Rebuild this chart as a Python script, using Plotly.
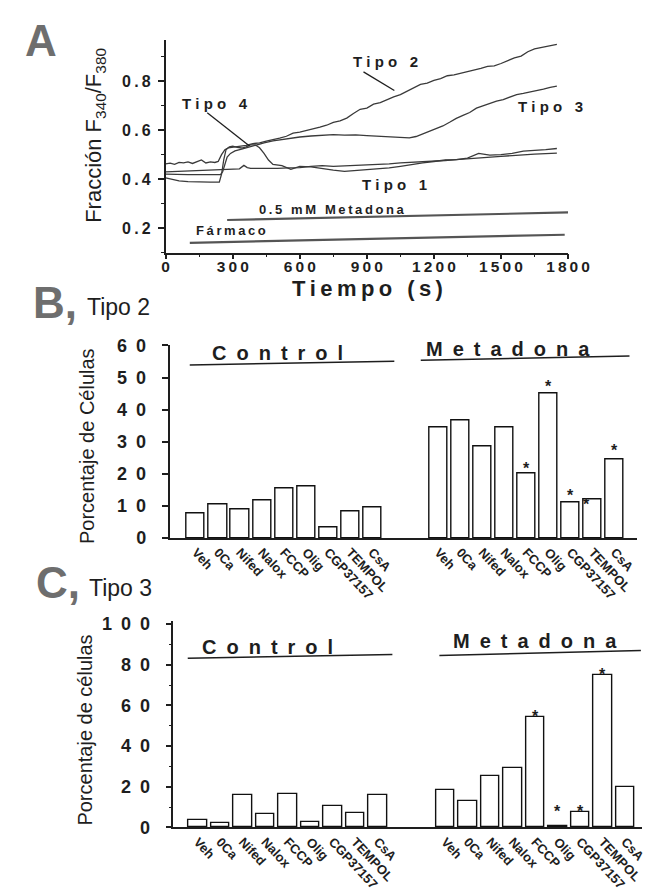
import plotly.graph_objects as go

FONT = "Liberation Sans, Arial, Helvetica, sans-serif"
W, H = 656, 889
INK = "#1e1e1e"
TRACE = "#3a3a3a"

# ---------------- Panel A : ratio traces ----------------
t_tipo1 = [0, 50, 100, 150, 200, 250, 300, 330, 350, 365, 380, 450, 500, 550, 600, 650, 700, 750, 800,
           850, 900, 950, 1000, 1050, 1100, 1150, 1200, 1250, 1300, 1350, 1400, 1450, 1500, 1550, 1600,
           1650, 1700, 1750]
v_tipo1 = [0.430, 0.432, 0.433, 0.435, 0.436, 0.438, 0.440, 0.442, 0.456, 0.447, 0.444, 0.443, 0.444,
           0.446, 0.447, 0.452, 0.455, 0.452, 0.454, 0.455, 0.456, 0.458, 0.462, 0.466, 0.468, 0.470,
           0.474, 0.476, 0.480, 0.484, 0.488, 0.490, 0.493, 0.496, 0.500, 0.502, 0.504, 0.506]

t_tipo2 = [0, 20, 40, 60, 80, 100, 120, 140, 160, 180, 200, 220, 235, 250, 265, 280, 300, 330, 360, 390,
           420, 450, 480, 510, 540, 570, 600, 630, 660, 690, 720, 750, 780, 810, 840, 870, 900, 930, 960,
           990, 1020, 1050, 1080, 1110, 1140, 1170, 1200, 1230, 1260, 1290, 1320, 1350, 1380, 1410, 1440,
           1470, 1500, 1530, 1560, 1590, 1620, 1650, 1680, 1710, 1740, 1750]
v_tipo2 = [0.462, 0.465, 0.460, 0.468, 0.466, 0.470, 0.464, 0.470, 0.478, 0.466, 0.470, 0.468, 0.472,
           0.500, 0.520, 0.528, 0.530, 0.532, 0.538, 0.545, 0.548, 0.555, 0.560, 0.567, 0.575, 0.588,
           0.592, 0.598, 0.603, 0.612, 0.620, 0.632, 0.638, 0.649, 0.668, 0.685, 0.690, 0.706, 0.712,
           0.725, 0.736, 0.745, 0.760, 0.772, 0.787, 0.792, 0.803, 0.810, 0.822, 0.826, 0.832, 0.840,
           0.846, 0.852, 0.860, 0.862, 0.872, 0.884, 0.895, 0.902, 0.920, 0.932, 0.938, 0.944, 0.948,
           0.950]

t_tipo3 = [0, 50, 100, 150, 200, 245, 255, 265, 275, 290, 310, 340, 370, 400, 440, 480, 520, 560, 600,
           650, 700, 750, 800, 850, 900, 950, 1000, 1050, 1090, 1120, 1150, 1180, 1210, 1240, 1270, 1300,
           1330, 1360, 1390, 1420, 1450, 1480, 1510, 1540, 1570, 1600, 1630, 1660, 1690, 1720, 1750]
v_tipo3 = [0.420, 0.418, 0.418, 0.418, 0.418, 0.418, 0.430, 0.460, 0.490, 0.505, 0.515, 0.522, 0.530,
           0.540, 0.548, 0.556, 0.562, 0.568, 0.572, 0.576, 0.580, 0.582, 0.580, 0.581, 0.578, 0.576,
           0.572, 0.570, 0.568, 0.574, 0.585, 0.595, 0.605, 0.617, 0.632, 0.648, 0.660, 0.672, 0.690,
           0.700, 0.710, 0.718, 0.725, 0.735, 0.745, 0.750, 0.755, 0.760, 0.767, 0.775, 0.780]

t_tipo4 = [0, 30, 60, 100, 150, 200, 240, 250, 260, 270, 285, 300, 320, 340, 360, 380, 400, 420, 440,
           460, 480, 520, 560, 600, 650, 700, 750, 800, 850, 900, 950, 1000, 1050, 1100, 1150, 1200,
           1250, 1300, 1350, 1400, 1450, 1500, 1550, 1600, 1650, 1700, 1750]
v_tipo4 = [0.405, 0.398, 0.393, 0.390, 0.388, 0.388, 0.388, 0.420, 0.480, 0.520, 0.532, 0.535, 0.530,
           0.527, 0.532, 0.540, 0.540, 0.528, 0.505, 0.478, 0.460, 0.455, 0.440, 0.452, 0.450, 0.442,
           0.437, 0.432, 0.435, 0.438, 0.440, 0.446, 0.452, 0.460, 0.466, 0.472, 0.478, 0.480, 0.486,
           0.505, 0.498, 0.500, 0.505, 0.514, 0.516, 0.520, 0.525]

# application bars (start/end time, level)
farmaco_t = [108, 1785]
farmaco_v = [0.140, 0.173]
metadona_t = [275, 1800]
metadona_v = [0.233, 0.264]

a_xticks = [0, 300, 600, 900, 1200, 1500, 1800]
a_yticks = [0.2, 0.4, 0.6, 0.8]

# ---------------- Panels B / C : bar data ----------------
categories = ["Veh", "0Ca", "Nifed", "Nalox", "FCCP", "Olig", "CGP37157", "TEMPOL", "CsA"]
b_control = [7.6, 10.6, 9.0, 11.6, 15.5, 16.2, 3.2, 8.2, 9.4]
b_metadona = [34.5, 36.5, 28.5, 34.5, 20.0, 45.0, 11.0, 12.0, 24.5]
c_control = [3.5, 2.0, 15.7, 6.7, 16.5, 2.5, 10.6, 6.9, 16.0]
c_metadona = [18.2, 12.8, 25.4, 29.0, 54.2, 0.5, 7.4, 74.7, 19.7]

b_star_idx = [4, 5, 6, 7, 8]
b_star_y = [22.8, 48.4, 14.6, 11.6, 28.6]
c_star_idx = [4, 5, 6, 7]
c_star_y = [56.7, 9.6, 9.6, 77.4]

b_yticks = [0, 10, 20, 30, 40, 50, 60]
c_yticks = [0, 20, 40, 60, 80, 100]

pos_control = list(range(len(categories)))
pos_metadona = [i + len(categories) + 2 for i in range(len(categories))]


def pxx(x):
    return x / W


def pxy(y):
    return 1 - y / H


def spaced(s, gap="\u2009"):
    return gap.join(s)


fig = go.Figure()

# ---- Panel A traces ----
for tt, vv in [(t_tipo1, v_tipo1), (t_tipo2, v_tipo2), (t_tipo3, v_tipo3), (t_tipo4, v_tipo4)]:
    fig.add_trace(go.Scatter(x=tt, y=vv, mode="lines", line=dict(color=TRACE, width=1.3),
                             xaxis="x", yaxis="y", showlegend=False, hoverinfo="skip"))
for tt, vv in [(farmaco_t, farmaco_v), (metadona_t, metadona_v)]:
    fig.add_trace(go.Scatter(x=tt, y=vv, mode="lines", line=dict(color="#555555", width=2.2),
                             xaxis="x", yaxis="y", showlegend=False, hoverinfo="skip"))

# ---- Bars ----
bar_style = dict(marker=dict(color="white", line=dict(color="#111111", width=1.4)), width=0.82,
                 showlegend=False, hoverinfo="skip")
fig.add_trace(go.Bar(x=pos_control + pos_metadona, y=b_control + b_metadona,
                     xaxis="x2", yaxis="y2", **bar_style))
fig.add_trace(go.Bar(x=pos_control + pos_metadona, y=c_control + c_metadona,
                     xaxis="x3", yaxis="y3", **bar_style))

axis_common = dict(showline=True, linecolor=INK, linewidth=1.5, showgrid=False, zeroline=False,
                   ticks="outside", tickcolor=INK, tickwidth=1.5, ticklen=6)

xaxis_a = dict(domain=[pxx(160), pxx(579)], range=[0, 1800], anchor="y",
               tickvals=a_xticks, ticktext=[spaced(str(v)) for v in a_xticks],
               tickfont=dict(size=15.5, weight="bold", color=INK),
               minor=dict(ticks="outside", ticklen=3, tickwidth=1.2, tickcolor=INK, dtick=150, tick0=0),
               **axis_common)
xaxis_a["ticklen"] = 5

fig.update_layout(
    width=W, height=H, margin=dict(l=0, r=0, t=0, b=0),
    paper_bgcolor="white", plot_bgcolor="white",
    font=dict(family=FONT, color=INK),
    bargap=0,
    xaxis=xaxis_a,
    yaxis=dict(domain=[pxy(240), pxy(22)], range=[0.1, 0.97], anchor="x",
               tickvals=a_yticks, ticktext=[spaced("%.1f" % v) for v in a_yticks],
               tickfont=dict(size=16, weight="bold", color=INK), ticklabelstandoff=4,
               minor=dict(ticks="outside", ticklen=3, tickwidth=1.2, tickcolor=INK, dtick=0.1, tick0=0.1),
               **axis_common),
    xaxis2=dict(domain=[pxx(164), pxx(651)], range=[-1.2, 20.02], anchor="y2",
                tickvals=pos_control + pos_metadona, ticktext=categories + categories,
                tickangle=47, tickfont=dict(size=13, weight="bold", color=INK),
                showline=True, linecolor=INK, linewidth=1.5, showgrid=False, zeroline=False, ticks=""),
    yaxis2=dict(domain=[pxy(532), pxy(335)], range=[0, 60], anchor="x2",
                tickvals=b_yticks, ticktext=[spaced(str(v), "\u2002") for v in b_yticks],
                tickfont=dict(size=18, weight="bold", color=INK), ticklabelstandoff=12,
                **axis_common),
    xaxis3=dict(domain=[pxx(168), 1.0], range=[-1.09, 19.75], anchor="y3",
                tickvals=pos_control + pos_metadona, ticktext=categories + categories,
                tickangle=47, tickfont=dict(size=13, weight="bold", color=INK),
                showline=True, linecolor=INK, linewidth=1.5, showgrid=False, zeroline=False, ticks=""),
    yaxis3=dict(domain=[pxy(828), pxy(617)], range=[0, 101.5], anchor="x3",
                tickvals=c_yticks, ticktext=[spaced(str(v), "\u2002") for v in c_yticks],
                tickfont=dict(size=18, weight="bold", color=INK), ticklabelstandoff=12,
                minor=dict(ticks="outside", ticklen=3, tickwidth=1.2, tickcolor=INK, dtick=10, tick0=0),
                **axis_common),
)

# pull the time tick labels a little closer to the axis, if this plotly accepts it
try:
    fig.update_xaxes(ticklabelstandoff=-6, selector=dict(anchor="y"))
except ValueError:
    pass

ann = []
shapes = []

# ---- Panel A labels ----
bold15 = dict(family=FONT, size=15, color=INK, weight="bold")
for txt, tx, ty in [("Tipo 2", 982, 0.882), ("Tipo 4", 220, 0.707), ("Tipo 3", 1722, 0.695),
                    ("Tipo 1", 1025, 0.379)]:
    ann.append(dict(x=tx, y=ty, xref="x", yref="y", text=spaced(txt, " "), showarrow=False,
                    font=bold15, xanchor="center", yanchor="middle"))
ann.append(dict(x=745, y=0.276, xref="x", yref="y", text=spaced("0.5 mM Metadona"), showarrow=False,
                xanchor="center", yanchor="middle",
                font=dict(family=FONT, size=13, color=INK, weight="bold")))
ann.append(dict(x=291, y=0.192, xref="x", yref="y", text=spaced("Fármaco"), showarrow=False,
                xanchor="center", yanchor="middle",
                font=dict(family=FONT, size=13, color=INK, weight="bold")))
# leader lines
shapes.append(dict(type="line", xref="x", yref="y", x0=885, y0=0.838, x1=1023, y1=0.762,
                   line=dict(color=INK, width=1.3)))
shapes.append(dict(type="line", xref="x", yref="y", x0=186, y0=0.671, x1=375, y1=0.535,
                   line=dict(color=INK, width=1.3)))

ann.append(dict(x=pxx(370), y=pxy(277), xref="paper", yref="paper", text=spaced("Tiempo (s)"),
                xanchor="center", yanchor="middle",
                showarrow=False, font=dict(family=FONT, size=22, color=INK, weight="bold")))
ann.append(dict(x=pxx(87), y=pxy(120), xref="paper", yref="paper", textangle=-90,
                xanchor="center", yanchor="middle",
                text="Fracción F<sub>340</sub>/F<sub>380</sub>", showarrow=False,
                font=dict(family=FONT, size=22, color=INK)))

# ---- Panel letters ----
letter_font = dict(family=FONT, size=44, color="#6e6e6e", weight="bold")
ann.append(dict(x=pxx(11), y=pxy(23), xref="paper", yref="paper", text="A", showarrow=False,
                xanchor="left", yanchor="middle", font=letter_font))
ann.append(dict(x=pxx(20), y=pxy(291), xref="paper", yref="paper", text="B,", showarrow=False,
                xanchor="left", yanchor="middle", font=letter_font))
ann.append(dict(x=pxx(76), y=pxy(296), xref="paper", yref="paper", text="Tipo 2", showarrow=False,
                xanchor="left", yanchor="middle", font=dict(family=FONT, size=23, color=INK)))
ann.append(dict(x=pxx(23), y=pxy(578), xref="paper", yref="paper", text="C,", showarrow=False,
                xanchor="left", yanchor="middle", font=letter_font))
ann.append(dict(x=pxx(78), y=pxy(583), xref="paper", yref="paper", text="Tipo 3", showarrow=False,
                xanchor="left", yanchor="middle", font=dict(family=FONT, size=23, color=INK)))

# ---- Panel B / C y titles ----
ann.append(dict(x=pxx(78), y=pxy(438), xref="paper", yref="paper", textangle=-90,
                xanchor="center", yanchor="middle",
                text="Porcentaje de Células", showarrow=False,
                font=dict(family=FONT, size=20, color=INK)))
ann.append(dict(x=pxx(76), y=pxy(728), xref="paper", yref="paper", textangle=-90,
                xanchor="center", yanchor="middle",
                text="Porcentaje de células", showarrow=False,
                font=dict(family=FONT, size=20, color=INK)))

# ---- Group labels + lines ----
grp_font = dict(family=FONT, size=20, color=INK, weight="bold")
ann.append(dict(x=3.68, y=57.6, xref="x2", yref="y2", text=spaced("Control", "\u2002"),
                xanchor="center", yanchor="middle", showarrow=False, font=grp_font))
ann.append(dict(x=14.14, y=58.8, xref="x2", yref="y2", text=spaced("Metadona", "\u2002"),
                xanchor="center", yanchor="middle", showarrow=False, font=grp_font))
shapes.append(dict(type="line", xref="x2", yref="y2", x0=-0.28, y0=53.9, x1=9.0, y1=55.1,
                   line=dict(color=INK, width=1.5)))
shapes.append(dict(type="line", xref="x2", yref="y2", x0=10.2, y0=55.4, x1=19.67, y1=56.7,
                   line=dict(color=INK, width=1.5)))

ann.append(dict(x=3.10, y=88.9, xref="x3", yref="y3", text=spaced("Control", "\u2002"),
                xanchor="center", yanchor="middle", showarrow=False, font=grp_font))
ann.append(dict(x=15.01, y=91.8, xref="x3", yref="y3", text=spaced("Metadona", "\u2002"),
                xanchor="center", yanchor="middle", showarrow=False, font=grp_font))
shapes.append(dict(type="line", xref="x3", yref="y3", x0=-0.45, y0=83.2, x1=8.65, y1=85.1,
                   line=dict(color=INK, width=1.5)))
shapes.append(dict(type="line", xref="x3", yref="y3", x0=10.74, y0=84.6, x1=19.7, y1=87.0,
                   line=dict(color=INK, width=1.5)))

# ---- significance stars ----
star_font = dict(family=FONT, size=16, color=INK, weight="bold")
for i, yv in zip(b_star_idx, b_star_y):
    xs = pos_metadona[i] - (0.3 if categories[i] == "TEMPOL" else 0)
    ann.append(dict(x=xs, y=yv, xref="x2", yref="y2", text="*", showarrow=False,
                    font=star_font, xanchor="center", yanchor="middle", yshift=-4))
for i, yv in zip(c_star_idx, c_star_y):
    ann.append(dict(x=pos_metadona[i], y=yv, xref="x3", yref="y3", text="*", showarrow=False,
                    font=star_font, xanchor="center", yanchor="middle", yshift=-4))

fig.update_layout(annotations=ann, shapes=shapes)
fig.write_html("out.html")
